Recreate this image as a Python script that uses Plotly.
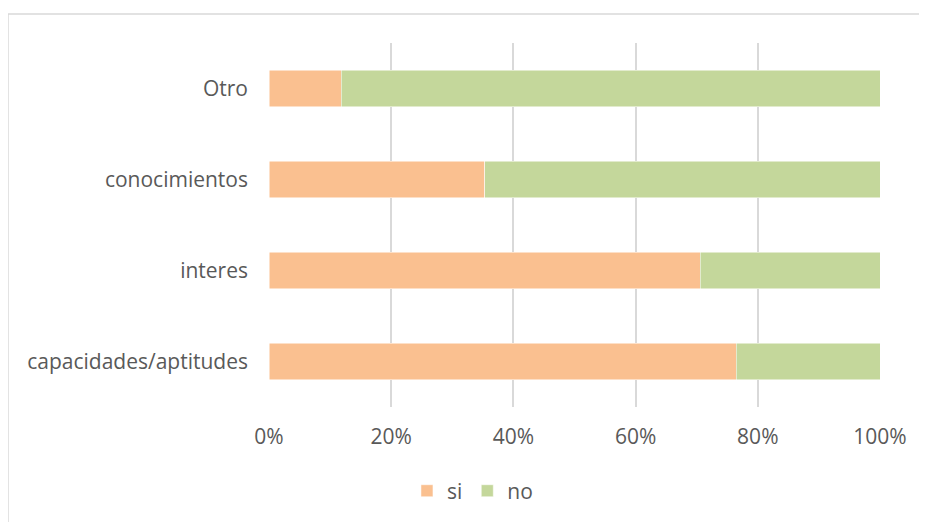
import plotly.graph_objects as go

categorias = ["capacidades/aptitudes", "interes", "conocimientos", "Otro"]
si = [76.5, 70.6, 35.3, 11.8]
no = [23.5, 29.4, 64.7, 88.2]

fuente = dict(family="Open Sans", size=21, color="#595959")

fig = go.Figure()
fig.add_trace(go.Bar(y=categorias, x=si, name="si", orientation="h",
                     marker=dict(color="#FAC090", line=dict(color="#FFFFFF", width=0.5))))
fig.add_trace(go.Bar(y=categorias, x=no, name="no", orientation="h",
                     marker=dict(color="#C4D79B", line=dict(color="#FFFFFF", width=0.5))))

fig.update_layout(
    barmode="stack",
    bargap=0.6,
    width=927, height=522,
    margin=dict(l=261, r=55, t=35, b=123),
    plot_bgcolor="white", paper_bgcolor="white",
    font=fuente,
    showlegend=True,
    legend=dict(orientation="h", x=0.333, xanchor="center", y=-0.231, yanchor="middle",
                traceorder="normal", font=dict(size=21, color="#595959"),
                itemwidth=30, tracegroupgap=0),
)
fig.update_xaxes(range=[0, 100], tickvals=[0, 20, 40, 60, 80, 100],
                 ticktext=["0%", "20%", "40%", "60%", "80%", "100%"],
                 showgrid=True, gridcolor="#D9D9D9", gridwidth=1.5,
                 zeroline=False, showline=False, ticks="", ticklabelstandoff=15,
                 tickfont=dict(size=21, color="#595959"))
fig.update_yaxes(showgrid=False, zeroline=False, showline=False, ticks="",
                 ticklabelstandoff=20, tickfont=dict(size=21, color="#595959"))

# borde del área del gráfico
fig.add_shape(type="rect", xref="paper", yref="paper",
              x0=-0.4272, x1=1.2, y0=-0.5, y1=1.0797,
              line=dict(color="#D9D9D9", width=1.5), layer="below")

fig.write_html("out.html")
